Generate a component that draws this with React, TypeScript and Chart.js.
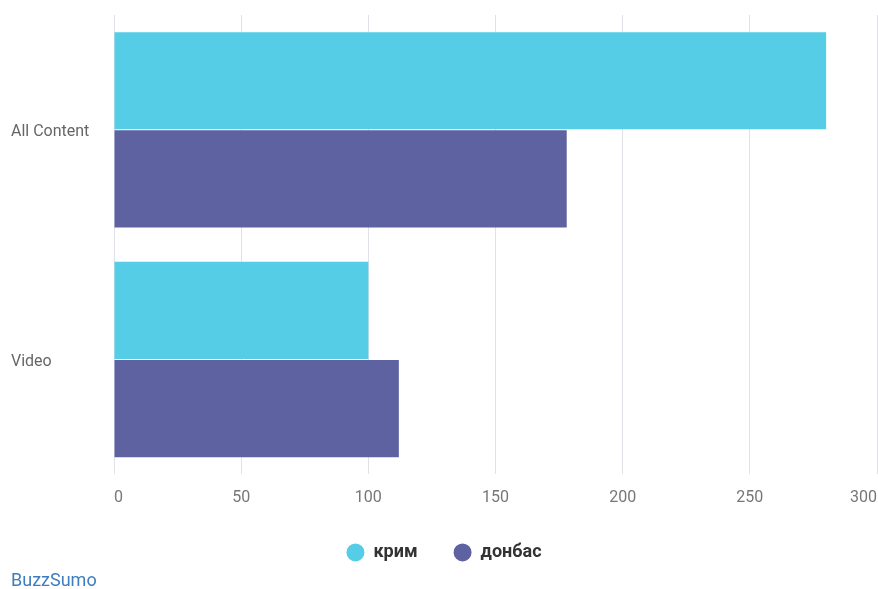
import React, { useEffect, useRef } from "react";
import { Chart, registerables } from "chart.js";

Chart.register(...registerables);

const categories = ["All Content", "Video"];
const krymValues = [280, 100];
const donbasValues = [178, 112];
const seriesNames = ["крим", "донбас"];
const xTickMin = 0;
const xTickMax = 300;
const xTickStep = 50;
const creditText = "BuzzSumo";

const W = 878;
const H = 589;

export default function App() {
  const ref = useRef<HTMLCanvasElement | null>(null);

  useEffect(() => {
    document.body.style.margin = "0";
    const canvas = ref.current;
    if (!canvas) return;
    const chart = new Chart(canvas, {
      type: "bar",
      data: {
        labels: categories,
        datasets: [
          {
            label: seriesNames[0],
            data: krymValues,
            backgroundColor: "#55CDE6",
            borderWidth: 0,
            categoryPercentage: 0.855,
            barPercentage: 0.99,
          },
          {
            label: seriesNames[1],
            data: donbasValues,
            backgroundColor: "#5E62A1",
            borderWidth: 0,
            categoryPercentage: 0.855,
            barPercentage: 0.99,
          },
        ],
      },
      options: {
        indexAxis: "y",
        responsive: false,
        animation: false,
        devicePixelRatio: 1,
        layout: { padding: { left: 11, right: 1, top: 15, bottom: 0 } },
        scales: {
          x: {
            type: "linear",
            min: xTickMin,
            max: xTickMax,
            ticks: {
              stepSize: xTickStep,
              align: "inner",
              padding: 14,
              color: "#777777",
              font: { family: "Roboto", size: 16 },
            },
            grid: { color: "#dfe2e7", lineWidth: 1, drawTicks: false },
            border: { display: false },
            afterFit: (scale: any) => {
              scale.paddingRight = 0;
              scale.paddingLeft = 0;
              scale.height = 33;
            },
          },
          y: {
            type: "category",
            ticks: {
              crossAlign: "far",
              labelOffset: 2,
              color: "#666666",
              font: { family: "Roboto", size: 16 },
            },
            grid: { display: false },
            border: { display: false },
            afterFit: (scale: any) => {
              scale.width = 103;
            },
          },
        },
        plugins: {
          tooltip: { enabled: false },
          legend: {
            position: "bottom",
            maxHeight: 63,
            labels: {
              usePointStyle: true,
              pointStyle: "circle",
              boxWidth: 18,
              boxHeight: 12.7,
              padding: 36,
              color: "#333333",
              font: { family: "Roboto", size: 18, weight: "bold" },
            },
          },
          subtitle: {
            display: true,
            text: creditText,
            position: "bottom",
            align: "start",
            color: "#3f7dbf",
            font: { family: "Roboto", size: 18, weight: "normal", lineHeight: 1.2 },
            padding: { top: 0, bottom: -3 },
          },
        },
      },
    });
    return () => chart.destroy();
  }, []);

  return (
    <canvas
      ref={ref}
      width={W}
      height={H}
      style={{ display: "block", width: W + "px", height: H + "px" }}
    />
  );
}
